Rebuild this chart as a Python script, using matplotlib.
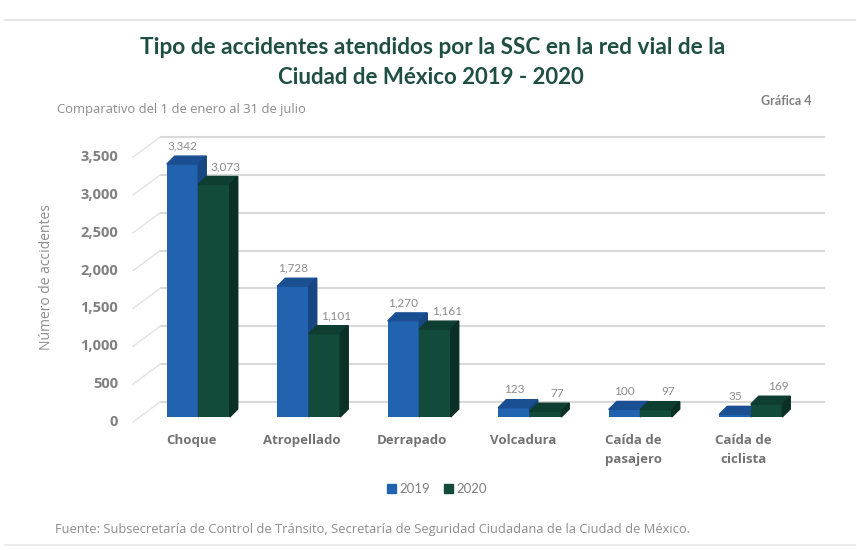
import numpy as np
import matplotlib.pyplot as plt
import matplotlib.transforms as mtransforms
from matplotlib.patches import Polygon, Patch
from matplotlib.lines import Line2D

categorias = ['Choque', 'Atropellado', 'Derrapado', 'Volcadura',
              'Caída de\npasajero', 'Caída de\nciclista']
v2019 = [3342, 1728, 1270, 123, 100, 35]
v2020 = [3073, 1101, 1161, 77, 97, 169]
yticks = [0, 500, 1000, 1500, 2000, 2500, 3000, 3500]
series = ['2019', '2020']

plt.rcParams['font.family'] = ['Lato', 'DejaVu Sans']
wide = ['Open Sans', 'DejaVu Sans']

W, H = 857, 550
fig = plt.figure(figsize=(W / 100, H / 100), dpi=100)
# axes placed in pixels (left, bottom-from-top, width, height)
ax_l, ax_b, ax_w, ax_h = 143, 417, 663, 280
ax = fig.add_axes([ax_l / W, 1 - ax_b / H, ax_w / W, ax_h / H])
ax.set_xlim(-0.5, len(categorias) - 0.5)
ax.set_ylim(0, 3700)
ax.axis('off')

px_x = ax_w / len(categorias)   # pixels per x unit
px_y = ax_h / 3700              # pixels per y unit

grid_c = '#d9d9d9'
lab_c = '#808080'

# back wall gridlines and left diagonals
back = mtransforms.offset_copy(ax.transData, fig=fig, x=18, y=15, units='dots')
for v in yticks:
    ax.plot([-0.5, len(categorias) - 0.5], [v, v], color=grid_c, lw=1.5,
            transform=back, clip_on=False, zorder=0)
    ax.plot([-0.5 - 10 / px_x, -0.5 + 17 / px_x], [v - 5 / px_y, v + 15 / px_y],
            color='#e2e2e2', lw=1, clip_on=False, zorder=0)
    ax.text(-0.5 - 25 / px_x, v - 5 / px_y, f'{v:,}', ha='right', va='center',
            fontsize=10.5, fontweight='bold', color=lab_c, family=wide)

# 3D-looking bars
colors = {'2019': ('#2263b0', '#1a4f92', '#174683'),
          '2020': ('#124b3b', '#0e3e31', '#0a3026')}
bw = 0.285
ddx, ddy = 8 / px_x, 8 / px_y
x = np.arange(len(categorias))
for k, (name, vals) in enumerate(zip(series, [v2019, v2020])):
    front, top, side = colors[name]
    xs = x + (k - 0.5) * bw
    ax.bar(xs, vals, bw, color=front, zorder=2 + k, clip_on=False)
    for xc, h in zip(xs, vals):
        xl, xr = xc - bw / 2, xc + bw / 2
        ax.add_patch(Polygon([(xl, h), (xr, h), (xr + ddx, h + ddy), (xl + ddx, h + ddy)],
                             closed=True, color=top, zorder=2 + k, clip_on=False))
        ax.add_patch(Polygon([(xr, 0), (xr, h), (xr + ddx, h + ddy), (xr + ddx, ddy)],
                             closed=True, color=side, zorder=2 + k, clip_on=False))
        shift = 0 if k == 0 else 12 / px_x
        ax.text(xc + shift, h + 18 / px_y, f'{h:,}', ha='center', va='center',
                fontsize=8.5, color='#8c8c8c', zorder=5)

# category labels at floor front
for xc, cat in zip(x, categorias):
    ax.text(xc - 7 / px_x, -17 / px_y, cat, ha='center', va='top', fontsize=9.5,
            fontweight='bold', color='#737373', linespacing=1.6, family=wide)

# y axis title
fig.text(47 / W, 1 - 277 / H, 'Número de accidentes', rotation=90, ha='center',
         va='center', fontsize=10, color='#8c8c8c', family=wide)

# titles
title_c = '#1f4e43'
fig.text(433 / W, 1 - 48 / H, 'Tipo de accidentes atendidos por la SSC en la red vial de la',
         ha='center', va='center', fontsize=16.3, fontweight='bold', color=title_c)
fig.text(431 / W, 1 - 78 / H, 'Ciudad de México 2019 - 2020',
         ha='center', va='center', fontsize=16, fontweight='bold', color=title_c)
fig.text(57 / W, 1 - 109 / H, 'Comparativo del 1 de enero al 31 de julio',
         ha='left', va='center', fontsize=9.4, color='#8c8c8c', family=wide)
fig.text(812 / W, 1 - 101 / H, 'Gráfica 4', ha='right', va='center',
         fontsize=9, fontweight='bold', color='#7f7f7f')

# legend
handles = [Patch(color=colors[s][0], label=s) for s in series]
leg = fig.legend(handles=handles, loc='center', bbox_to_anchor=(437 / W, 1 - 489 / H),
                 ncol=2, frameon=False, fontsize=9.5, handlelength=0.7,
                 handleheight=0.7, handletextpad=0.3, columnspacing=1.0)
for t in leg.get_texts():
    t.set_color('#7f7f7f')

# footer
fig.text(55 / W, 1 - 530 / H,
         'Fuente: Subsecretaría de Control de Tránsito, Secretaría de Seguridad Ciudadana de la Ciudad de México.',
         ha='left', va='center', fontsize=9.3, color='#8c8c8c', family=wide)

# page separator lines
fig.add_artist(Line2D([5 / W, 855 / W], [1 - 20 / H, 1 - 20 / H], color='#e6e6e6', lw=1.5))
fig.add_artist(Line2D([5 / W, 855 / W], [1 - 545 / H, 1 - 545 / H], color='#ececec', lw=1.5))

fig.savefig('out.png', dpi=100)
